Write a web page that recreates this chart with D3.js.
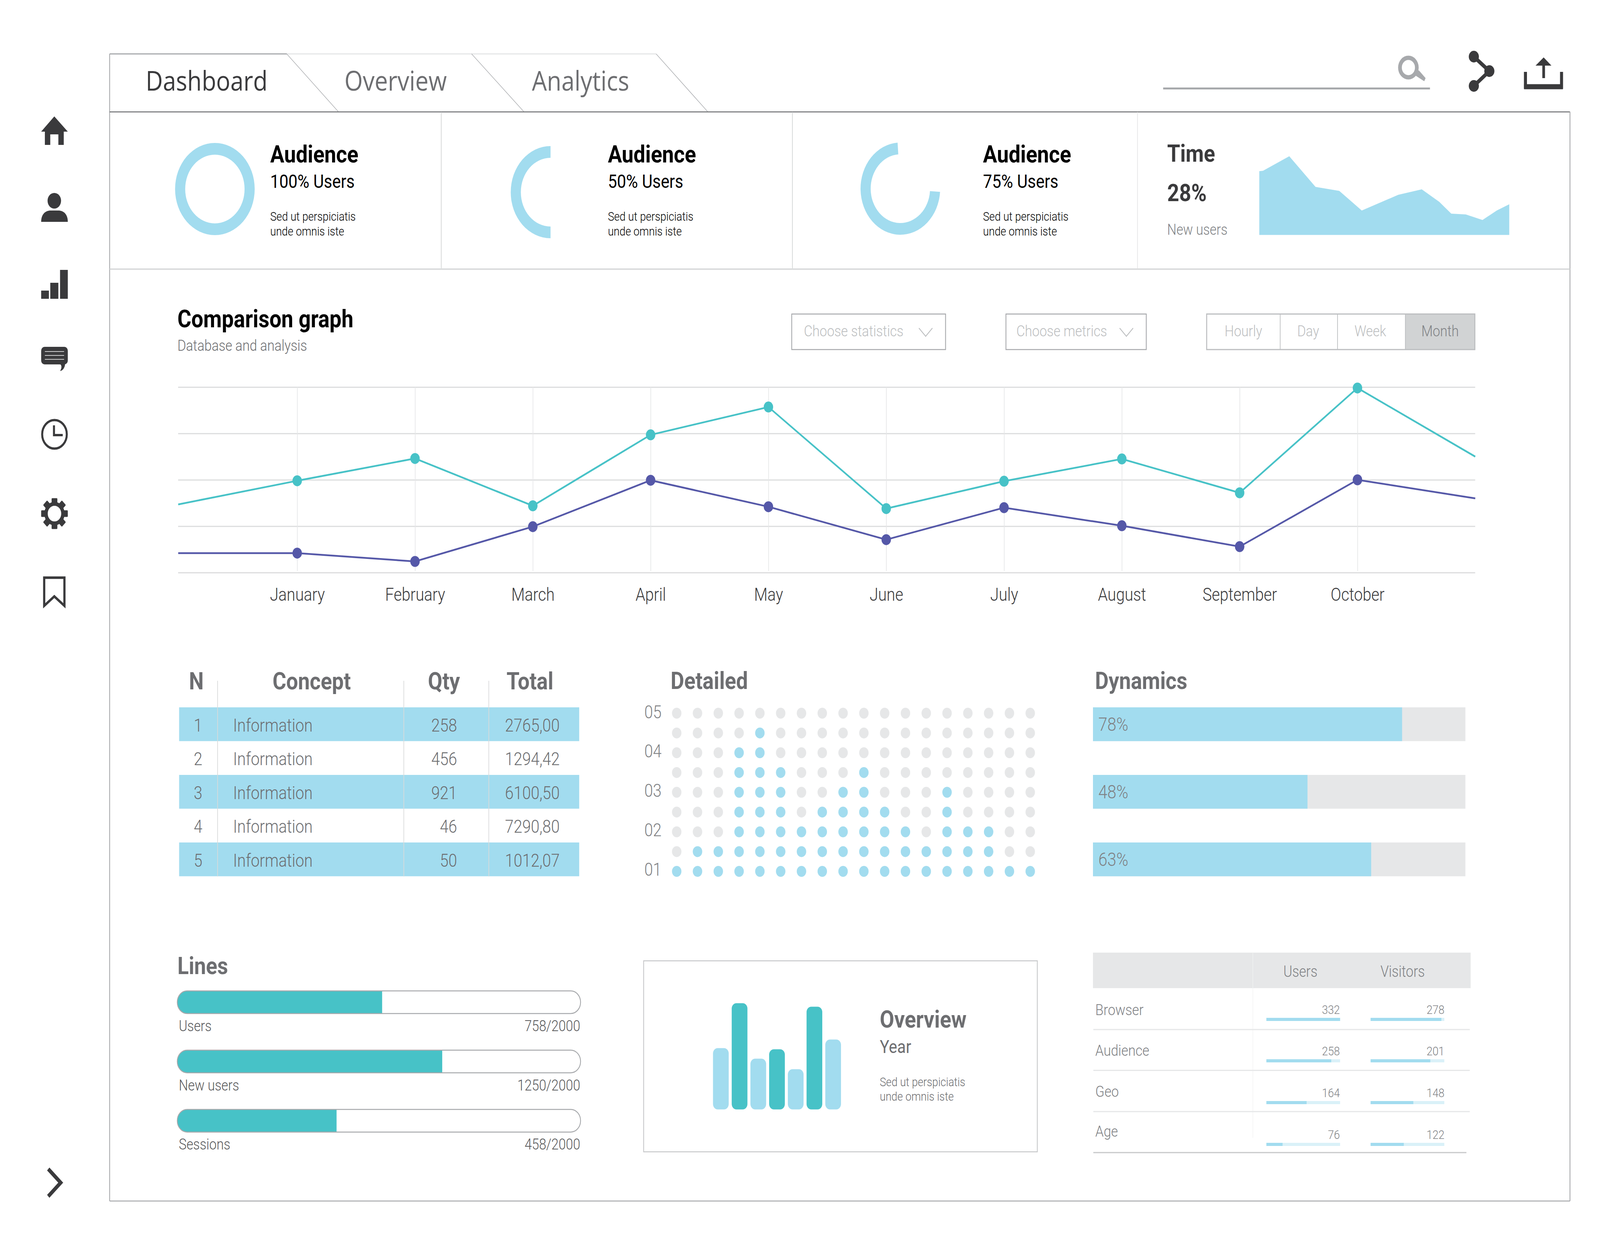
<!DOCTYPE html>
<html lang="en">
<head>
<meta charset="UTF-8">
<title>Dashboard</title>
<script src="https://cdnjs.cloudflare.com/ajax/libs/d3/7.8.5/d3.min.js"></script>
<style>
    html, body { margin: 0; background: #fff; overflow: hidden; }
    svg { display: block; width: 100vw; height: 100vh; }
    text { font-family: Roboto, sans-serif; }
    .domain { display: none; }
</style>
</head>
<body>
<div id="chart"></div>
<script>
// ---- data ----
const tabs = ["Dashboard", "Overview", "Analytics"];

const ringPercent = ["100% Users", "50% Users", "75% Users"];
const ringStart = [0, 180, 94];
const ringSweep = [360, 180, 262];

const areaPos = [0, 1.5, 12, 22.5, 32, 41, 55.6, 65, 72, 76.8, 82.6, 89.3, 95, 100];
const areaVal = [81, 81.5, 100, 61, 56, 31, 51, 58, 42, 27, 26, 19, 31, 39];

const months = ["January", "February", "March", "April", "May", "June", "July", "August", "September", "October"];
const linePos = [-0.01, 1, 2, 3, 4, 5, 6, 7, 8, 9, 10, 11];
const tealLine = [1.47, 1.98, 2.46, 1.44, 2.97, 3.57, 1.38, 1.97, 2.45, 1.72, 3.98, 2.5];
const purpleLine = [0.42, 0.42, 0.24, 0.99, 1.99, 1.42, 0.71, 1.4, 1.01, 0.56, 2.0, 1.6];

const segments = ["Hourly", "Day", "Week", "Month"];

const tableHead = ["N", "Concept", "Qty", "Total"];
const tableN = ["1", "2", "3", "4", "5"];
const tableQty = ["258", "456", "921", "46", "50"];
const tableTotal = ["2765,00", "1294,42", "6100,50", "7290,80", "1012,07"];

const dotLabels = ["05", "04", "03", "02", "01"];
const dotHeights = [1, 2, 2, 7, 8, 6, 3, 4, 5, 6, 4, 3, 2, 5, 3, 3, 1, 1];

const dynLabels = ["78%", "48%", "63%"];
const dynFill = [83, 57.6, 74.7];

const lineNames = ["Users", "New users", "Sessions"];
const lineTotals = ["758/2000", "1250/2000", "458/2000"];
const lineFill = [50.8, 65.7, 39.5];

const yearBars = [157, 272, 130, 154, 103, 263, 179];

const srcNames = ["Browser", "Audience", "Geo", "Age"];
const srcUsers = [332, 258, 164, 76];
const srcVisitors = [278, 201, 148, 122];
const srcUsersFill = [100, 88, 54.6, 22];
const srcVisitorsFill = [96, 81, 58, 45];

// ---- colours ----
const blue = "#a2dcef", teal = "#47c2c7", purple = "#5558a8", dark = "#3a3a3c";
const grey = "#6d6e71", midGrey = "#808285", lineGrey = "#a7a9ac", pale = "#e6e7e8";

// window can be narrower than the reference, so draw in reference units and stretch
const svg = d3.select("#chart").append("svg")
    .attr("viewBox", "0 0 4743 3162")
    .attr("preserveAspectRatio", "none");

function label(x, y, str, size, weight, fill, anchor) {
    return svg.append("text").attr("x", x).attr("y", y).text(str)
        .attr("font-size", size).attr("font-weight", weight || 300)
        .attr("fill", fill || grey).attr("text-anchor", anchor || "start");
}
function rule(x1, y1, x2, y2, stroke, w) {
    svg.append("line").attr("x1", x1).attr("y1", y1).attr("x2", x2).attr("y2", y2)
        .attr("stroke", stroke).attr("stroke-width", w || 2);
}
function box(x, y, w, h, fill, rx) {
    return svg.append("rect").attr("x", x).attr("y", y).attr("width", w).attr("height", h)
        .attr("fill", fill).attr("rx", rx || 0);
}
function icon(d, fill) {
    return svg.append("path").attr("d", d).attr("fill", fill || dark);
}

// ---- frame and tabs ----
rule(325, 138, 325, 3075, lineGrey, 2.5);
rule(325, 138, 850, 138, lineGrey, 3);
rule(850, 138, 1945, 138, pale, 3);
[[850, 1003], [1398, 1553], [1945, 2098]].forEach(t => rule(t[0], 138, t[1], 286, lineGrey, 1.5));
rule(325, 286.5, 4654, 286.5, grey, 2.5);
rule(4654, 286, 4654, 3075, lineGrey, 2.5);
rule(325, 3075, 4654, 3075, lineGrey, 2.5);
rule(325, 689, 4654, 689, "#d1d3d4", 3);
rule(1308, 287, 1308, 687, "#d1d3d4", 2);
rule(2349, 287, 2349, 687, "#d1d3d4", 2);
rule(3372, 287, 3372, 687, pale, 2);

const tabX = [432, 1021, 1577], tabFill = [dark, grey, grey];
tabs.forEach((t, i) => label(tabX[i], 232, t, 70, 400, tabFill[i]).style("font-family", "'Open Sans'"));

// search, share, upload
rule(3448, 226.5, 4239, 226.5, lineGrey, 5);
svg.append("circle").attr("cx", 4175).attr("cy", 173).attr("r", 25).attr("fill", "none").attr("stroke", lineGrey).attr("stroke-width", 11);
icon("M4190 190 L4206 180 L4226 200 L4222 208 Z", lineGrey);
[[4369, 145], [4415, 182], [4369, 220]].forEach(p =>
    svg.append("circle").attr("cx", p[0]).attr("cy", p[1]).attr("r", 15).attr("fill", dark));
svg.append("path").attr("d", "M4369 145 L4415 182 L4369 220").attr("fill", "none").attr("stroke", dark).attr("stroke-width", 10);
svg.append("path").attr("d", "M4522 184 V223 H4629 V184").attr("fill", "none").attr("stroke", dark).attr("stroke-width", 9);
rule(4518, 222, 4633, 222, dark, 13);
icon("M4576 147 L4599 168 H4552 Z");
rule(4576, 160, 4576, 200, dark, 8);

// ---- side icons ----
icon("M161 298 L201 337 H189 V371 H173 V344 H149 V371 H133 V337 H122 Z");
svg.append("circle").attr("cx", 161).attr("cy", 514).attr("r", 20).attr("fill", dark);
icon("M122 568 C122 548 135 539 150 539 H173 C188 539 201 548 201 568 Z");
[[122, 744, 23], [149, 724, 24], [178, 691, 23]].forEach(b => box(b[0], b[1], b[2], 765 - b[1], dark));
box(122, 888, 79, 45, dark, 10);
icon("M178 932 C184 936 183 943 178 950 C186 949 192 942 193 932 Z");
[900, 910, 920].forEach(y => rule(133, y, 190, y, "#fff", 1.5));
svg.append("circle").attr("cx", 161.5).attr("cy", 1112).attr("r", 36.5).attr("fill", "none").attr("stroke", dark).attr("stroke-width", 6);
svg.append("path").attr("d", "M160 1089 V1114 H186").attr("fill", "none").attr("stroke", dark).attr("stroke-width", 6);
d3.range(8).forEach(i => {
    svg.append("rect").attr("x", 153).attr("y", 1275.5).attr("width", 17).attr("height", 18).attr("rx", 2).attr("fill", dark)
        .attr("transform", `rotate(${i * 45} 161.5 1315)`);
});
svg.append("circle").attr("cx", 161.5).attr("cy", 1315).attr("r", 25).attr("fill", "none").attr("stroke", dark).attr("stroke-width", 10);
svg.append("path").attr("d", "M131 1479 H191 V1551 L161 1527 L131 1551 Z").attr("fill", "none").attr("stroke", dark).attr("stroke-width", 6.5);
svg.append("path").attr("d", "M143 2993 L180 3028 L143 3063").attr("fill", "none").attr("stroke", dark).attr("stroke-width", 10);

// ---- audience rings ----
const ringCx = [637, 1632, 2669], ringCy = [484, 492, 483];
const ringTextX = [801, 1802, 2914];
const ringArc = d3.arc().innerRadius(88).outerRadius(118);
ringPercent.forEach((p, i) => {
    svg.append("path")
        .attr("d", ringArc({startAngle: ringStart[i] * Math.PI / 180, endAngle: (ringStart[i] + ringSweep[i]) * Math.PI / 180}))
        .attr("transform", `translate(${ringCx[i]},${ringCy[i]})`)
        .attr("fill", blue);
    label(ringTextX[i], 416, "Audience", 62, 700, "#000");
    label(ringTextX[i], 481, p, 48, 400, "#000");
    label(ringTextX[i], 565, "Sed ut perspiciatis", 31.5, 300, "#000");
    label(ringTextX[i], 603, "unde omnis iste", 31.5, 300, "#000");
});

// ---- time card ----
label(3460, 414, "Time", 62, 700, dark);
label(3460, 515, "28%", 62, 700, dark);
label(3460, 601, "New users", 38.5, 300, midGrey);
const areaX = d3.scaleLinear().domain([0, 100]).range([3733, 4474]);
const areaY = d3.scaleLinear().domain([0, 100]).range([601.5, 400]);
svg.append("path")
    .attr("d", d3.area().x((d, i) => areaX(areaPos[i])).y0(areaY(0)).y1(d => areaY(d))(areaVal))
    .attr("fill", blue);

// ---- comparison graph ----
label(526, 838, "Comparison graph", 63, 700, "#000");
label(526, 898, "Database and analysis", 39, 300, grey);

[[2347, 456, "Choose statistics", 2383, 2724], [2982, 416, "Choose metrics", 3013, 3319]].forEach(d => {
    svg.append("rect").attr("x", d[0]).attr("y", 804).attr("width", d[1]).attr("height", 91).attr("fill", "#fff").attr("stroke", lineGrey).attr("stroke-width", 2.5);
    label(d[3], 861, d[2], 39, 300, "#bcbec0");
    svg.append("path").attr("d", `M${d[4]} 840 L${d[4] + 20} 861 L${d[4] + 40} 840`).attr("fill", "none").attr("stroke", "#bcbec0").attr("stroke-width", 2.5);
});
const segCenter = [3686, 3878, 4062, 4269];
box(4166, 804, 206, 91, "#d1d3d4");
svg.append("rect").attr("x", 3577).attr("y", 804).attr("width", 795).attr("height", 91).attr("fill", "none").attr("stroke", "#bcbec0").attr("stroke-width", 3);
[3795, 3965, 4166].forEach(x => rule(x, 804, x, 895, "#bcbec0", 2));
segments.forEach((s, i) => label(segCenter[i], 861, s, 39, 300, i === 3 ? midGrey : "#bcbec0", "middle"));

const x = d3.scaleLinear().domain([1, 10]).range([881, 4024]);
const y = d3.scaleLinear().domain([0, 4]).range([1466, 991]);
const yAxis = d3.axisLeft(y).tickValues([0, 1, 2, 3, 4]).tickSize(-(4373 - 528)).tickFormat("");
const gy = svg.append("g").attr("transform", "translate(528,0)").call(yAxis);
gy.selectAll("line").attr("stroke", "#dcddde").attr("stroke-width", 3);
const xAxis = d3.axisBottom(x).tickValues(d3.range(1, 11)).tickSize(-471).tickPadding(0).tickFormat(d => months[d - 1]);
const gx = svg.append("g").attr("transform", "translate(0,1462)").call(xAxis);
gx.selectAll("line").attr("stroke", pale).attr("stroke-width", 2);
gx.selectAll("text").attr("font-size", 46).attr("font-weight", 300).attr("fill", dark).attr("dy", 0).attr("y", 76);

const linePath = d3.line().x((d, i) => x(linePos[i])).y(d => y(d));
[[tealLine, teal], [purpleLine, purple]].forEach(s => {
    svg.append("path").attr("d", linePath(s[0])).attr("fill", "none").attr("stroke", s[1]).attr("stroke-width", 4.5);
    svg.append("g").selectAll("circle").data(s[0].slice(1, 11)).enter().append("circle")
        .attr("cx", (d, i) => x(i + 1)).attr("cy", d => y(d)).attr("r", 14).attr("fill", s[1]);
});

// ---- table ----
const rowY = d3.scaleBand().domain(d3.range(5)).range([1811, 2243.5]).paddingInner(0);
const headX = [582, 924, 1316, 1571];
tableHead.forEach((h, i) => label(headX[i], 1765, h, 62, 700, grey, "middle"));
tableN.forEach((n, i) => {
    if (i % 2 === 0) box(531, rowY(i), 1186, rowY.bandwidth(), blue);
});
[645, 1197, 1449].forEach(cx => rule(cx, 1743, cx, 2244, "#d9dadb", 2));
tableN.forEach((n, i) => {
    const by = rowY(i) + 62;
    label(587, by, n, 46, 300, grey, "middle");
    label(691, by, "Information", 46, 300, grey);
    label(1355, by, tableQty[i], 46, 300, grey, "end");
    label(1659, by, tableTotal[i], 46, 300, grey, "end");
});

// ---- detailed dots ----
label(1988, 1764, "Detailed", 62, 700, grey);
const dotX = d3.scaleLinear().domain([0, 17]).range([2006, 3054]);
const dotY = d3.scaleLinear().domain([0, 8]).range([2231, 1826]);
dotLabels.forEach((l, i) => label(1910, [1839, 1939.5, 2040.5, 2141, 2242.5][i], l, 46, 300, midGrey));
dotHeights.forEach((h, c) => {
    svg.append("g").selectAll("circle").data(d3.range(9)).enter().append("circle")
        .attr("cx", dotX(c)).attr("cy", r => dotY(r)).attr("r", 14)
        .attr("fill", r => r < h ? blue : pale);
});

// ---- dynamics ----
label(3246, 1764, "Dynamics", 62, 700, grey);
const dynX = d3.scaleLinear().domain([0, 100]).range([0, 1104]);
dynLabels.forEach((l, i) => {
    const ty = rowY(i * 2);
    box(3240, ty, dynX(100), rowY.bandwidth(), pale);
    box(3240, ty, dynX(dynFill[i]), rowY.bandwidth(), blue);
    label(3256, ty + 60, l, 48, 300, midGrey);
});

// ---- lines ----
label(526, 2494, "Lines", 62, 700, grey);
const lineX = d3.scaleLinear().domain([0, 100]).range([0, 1195.5]);
const defs = svg.append("defs");
lineNames.forEach((n, i) => {
    const ty = 2537 + i * 151.7;
    defs.append("clipPath").attr("id", "pill" + i).append("rect")
        .attr("x", 525.5).attr("y", ty).attr("width", lineX(100)).attr("height", 58).attr("rx", 29);
    box(525.5, ty, lineX(lineFill[i]), 58, teal).attr("clip-path", `url(#pill${i})`);
    svg.append("rect").attr("x", 525.5).attr("y", ty).attr("width", lineX(100)).attr("height", 58).attr("rx", 29)
        .attr("fill", "none").attr("stroke", lineGrey).attr("stroke-width", 2.5);
    label(530, ty + 103, n, 38.5, 300, "#58595b");
    label(1720, ty + 103, lineTotals[i], 38.5, 300, "#58595b", "end");
});

// ---- overview card ----
svg.append("rect").attr("x", 1908).attr("y", 2460).attr("width", 1167).attr("height", 489)
    .attr("fill", "#fff").attr("stroke", "#c7c8ca").attr("stroke-width", 2.5);
const barX = d3.scaleBand().domain(d3.range(7)).range([2113.6, 2493]).paddingInner(0.16);
const barH = d3.scaleLinear().domain([0, 300]).range([0, 300]);
yearBars.forEach((v, i) => {
    box(barX(i), 2840.5 - barH(v), barX.bandwidth(), barH(v), i % 2 ? teal : blue, 14);
});
label(2608, 2631, "Overview", 62, 700, grey);
label(2608, 2696, "Year", 47, 400, grey);
label(2608, 2781, "Sed ut perspiciatis", 31.5, 300, grey);
label(2608, 2818, "unde omnis iste", 31.5, 300, grey);

// ---- sources table ----
box(3240, 2439, 1119.5, 91, pale);
rule(3714, 2440, 3714, 2913, "#f1f2f2", 1.5);
label(3855, 2501, "Users", 40, 300, midGrey, "middle");
label(4158, 2501, "Visitors", 40, 300, midGrey, "middle");
const srcX = d3.scaleLinear().domain([0, 100]).range([0, 218.5]);
const srcLabelY = [2599, 2703.5, 2808, 2910], srcNumY = [2596, 2702, 2809.5, 2916];
const srcBarY = [2606, 2712, 2819, 2926], srcRuleY = [2636, 2740.6, 2846, 2951];
srcNames.forEach((n, i) => {
    label(3247, srcLabelY[i], n, 39.5, 300, midGrey);
    label(3972, srcNumY[i], srcUsers[i], 32, 300, midGrey, "end");
    label(4282, srcNumY[i], srcVisitors[i], 32, 300, midGrey, "end");
    box(3754, srcBarY[i], srcX(100), 8, "#daf1f8");
    box(3754, srcBarY[i], srcX(srcUsersFill[i]), 8, blue);
    box(4063, srcBarY[i], srcX(100), 8, "#daf1f8");
    box(4063, srcBarY[i], srcX(srcVisitorsFill[i]), 8, blue);
    rule(3241, srcRuleY[i], i === 3 ? 4347 : 4357, srcRuleY[i], i === 3 ? "#c7c8ca" : pale, 3);
});
</script>
</body>
</html>
